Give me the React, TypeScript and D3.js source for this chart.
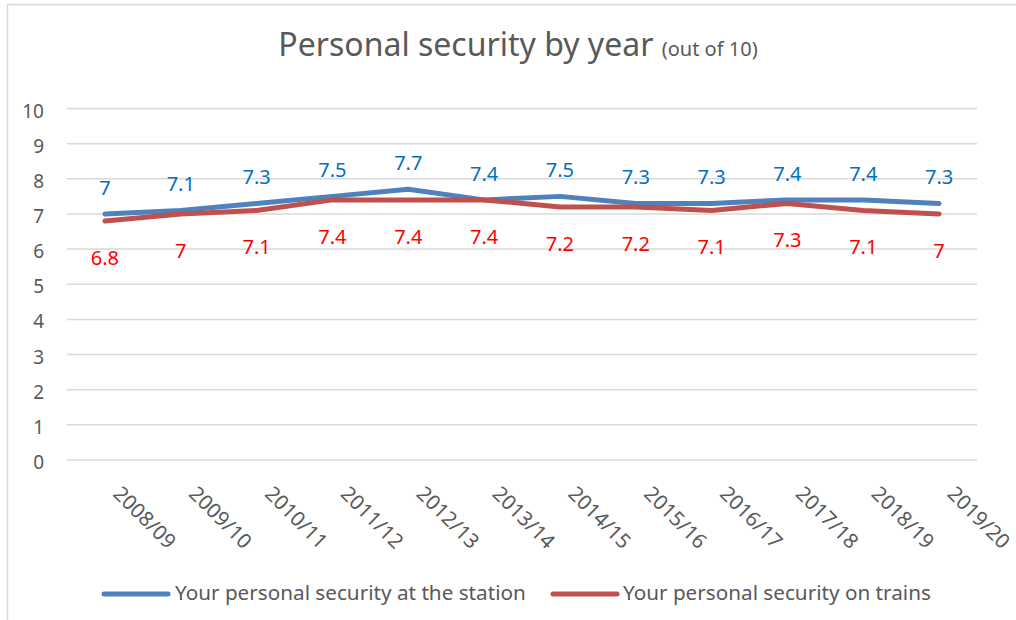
import React from "react";
import * as d3 from "d3";

const years = ["2008/09", "2009/10", "2010/11", "2011/12", "2012/13", "2013/14", "2014/15", "2015/16", "2016/17", "2017/18", "2018/19", "2019/20"];
const stationScores = [7, 7.1, 7.3, 7.5, 7.7, 7.4, 7.5, 7.3, 7.3, 7.4, 7.4, 7.3];
const trainScores = [6.8, 7, 7.1, 7.4, 7.4, 7.4, 7.2, 7.2, 7.1, 7.3, 7.1, 7];
const yTicks = [0, 1, 2, 3, 4, 5, 6, 7, 8, 9, 10];
const seriesNames = ["Your personal security at the station", "Your personal security on trains"];

const W = 1016;
const H = 620;
const FONT = "'Noto Sans', 'DejaVu Sans', sans-serif";
const GREY = "#595959";

export default function App() {
  const x = d3.scaleBand<string>().domain(years).range([67, 977]);
  const y = d3.scaleLinear().domain([0, 10]).range([460, 108.5]);
  const cx = (d: string) => (x(d) ?? 0) + x.bandwidth() / 2;

  const line = d3
    .line<number>()
    .x((_, i) => cx(years[i]))
    .y((v) => y(v));

  const series = [
    { name: seriesNames[0], values: stationScores, stroke: "#4F81BD", label: "#0070C0", above: true },
    { name: seriesNames[1], values: trainScores, stroke: "#C0504D", label: "#FF0000", above: false },
  ];

  return (
    <svg width={W} height={H} style={{ position: "absolute", left: 0, top: 0, background: "#fff" }} fontFamily={FONT}>
      <rect x={7.5} y={4.5} width={W + 10} height={H + 10} fill="#fff" stroke="#d9d9d9" strokeWidth={1.5} />

      <text x={518} y={56} textAnchor="middle" fill={GREY}>
        <tspan fontSize={32}>Personal security by year </tspan>
        <tspan fontSize={20}>(out of 10)</tspan>
      </text>

      {yTicks.map((t) => (
        <g key={t}>
          <line x1={67} x2={977} y1={y(t)} y2={y(t)} stroke="#d9d9d9" strokeWidth={1.5} />
          <text x={44} y={y(t) + 4} textAnchor="end" dominantBaseline="middle" fontSize={19} fill={GREY}>
            {t}
          </text>
        </g>
      ))}

      {years.map((yr) => (
        <text
          key={yr}
          transform={`translate(${cx(yr) + 11},${491}) rotate(45)`}
          fontSize={20.5}
          fill={GREY}
          dominantBaseline="middle"
        >
          {yr}
        </text>
      ))}

      {series.map((s) => (
        <path
          key={s.name}
          d={line(s.values) ?? ""}
          fill="none"
          stroke={s.stroke}
          strokeWidth={5}
          strokeLinejoin="round"
          strokeLinecap="round"
        />
      ))}

      {series.map((s) =>
        s.values.map((v, i) => (
          <text
            key={s.name + i}
            x={cx(years[i])}
            y={s.above ? y(v) - 19 : y(v) + 44}
            textAnchor="middle"
            fontSize={20}
            fill={s.label}
          >
            {v}
          </text>
        ))
      )}

      {/* legend */}
      <g>
        <line x1={104} x2={168} y1={594} y2={594} stroke={series[0].stroke} strokeWidth={5} strokeLinecap="round" />
        <text x={175} y={594} dominantBaseline="middle" fontSize={20.7} fill={GREY}>
          {seriesNames[0]}
        </text>
        <line x1={553} x2={617} y1={594} y2={594} stroke={series[1].stroke} strokeWidth={5} strokeLinecap="round" />
        <text x={623} y={594} dominantBaseline="middle" fontSize={20.7} fill={GREY}>
          {seriesNames[1]}
        </text>
      </g>
    </svg>
  );
}
